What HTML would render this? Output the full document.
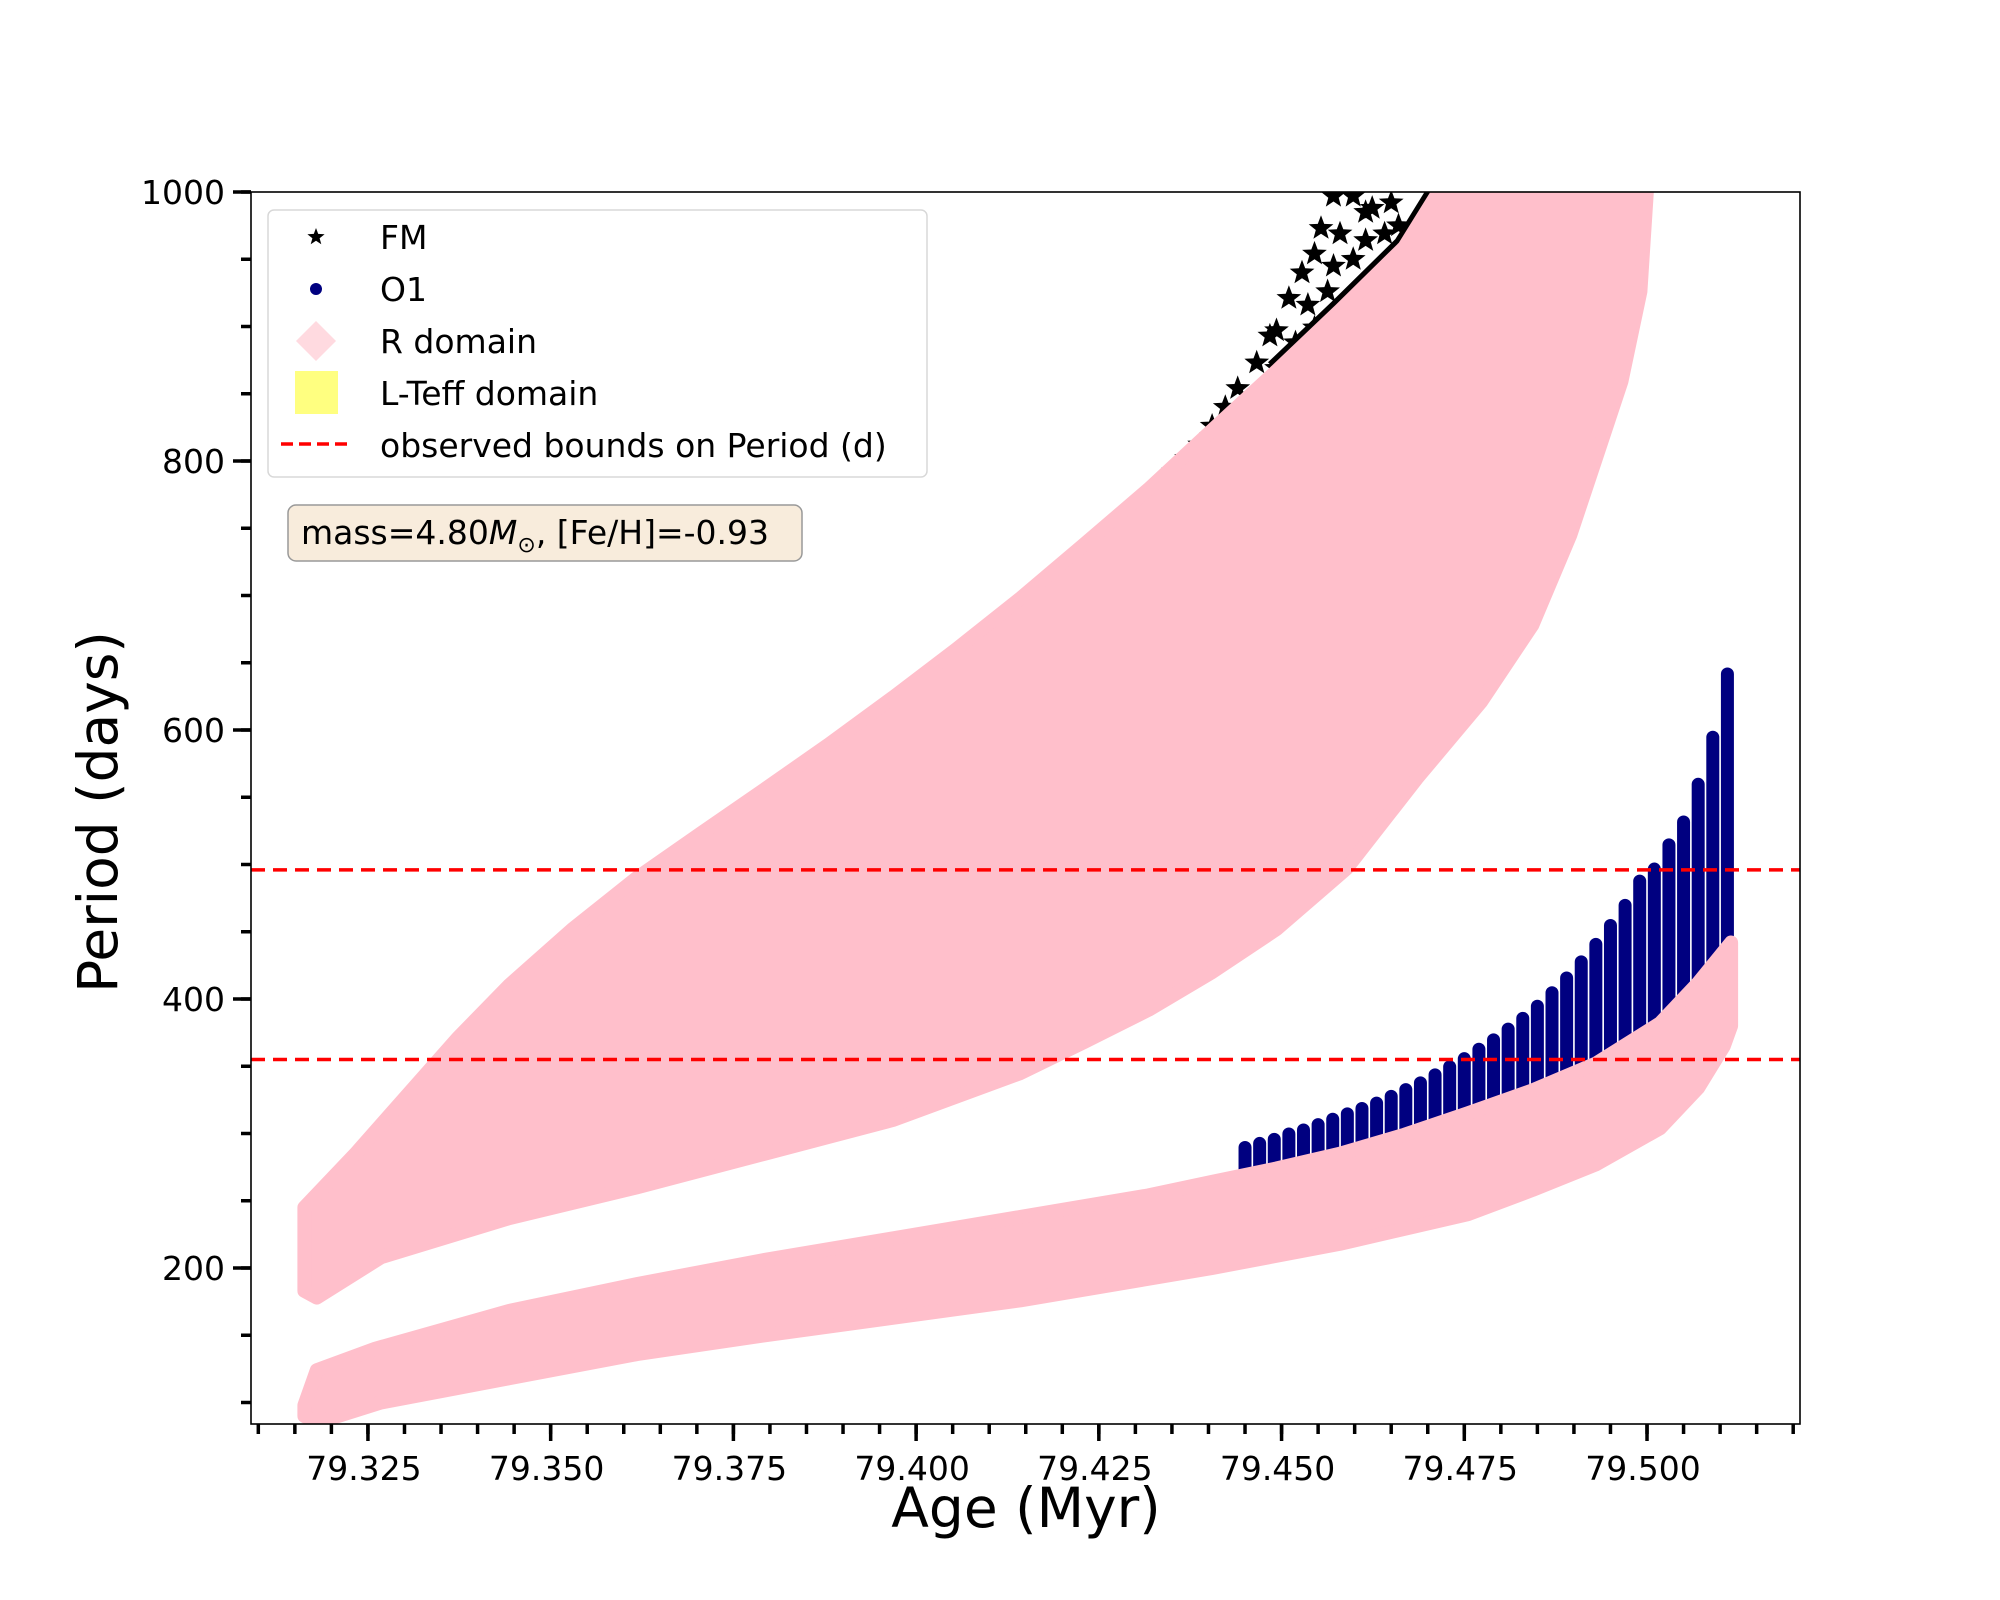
<!DOCTYPE html>
<html><head><meta charset="utf-8"><style>
html,body{margin:0;padding:0;background:#fff;}
svg{display:block;font-family:"DejaVu Sans","Liberation Sans",sans-serif;}
</style></head><body>
<svg id="chart" width="2000" height="1600" viewBox="0 0 2000 1600"></svg>
<script>
// ---- data ----
const upperBandTopAge=[79.3163,79.3233,79.3303,79.3373,79.3443,79.3530,79.3618,79.3705,79.3793,79.3880,79.3968,79.4055,79.4143,79.4230,79.4318,79.4405,79.4493,79.4580,79.4668,79.4717];
const upperBandTopP=[245,285,328,371,410,452,490,523,556,589,624,660,698,738,779,823,867,912,959,1002];
const upperBandBotAge=[79.5000,79.4991,79.4965,79.4930,79.4895,79.4843,79.4773,79.4685,79.4589,79.4493,79.4405,79.4318,79.4230,79.4143,79.3968,79.3793,79.3618,79.3443,79.3268,79.3180,79.3163];
const upperBandBotP=[1002,926,859,802,745,678,621,564,497,452,420,392,368,345,310,285,260,237,208,178,183];
const lowerBandTopAge=[79.3163,79.3180,79.3260,79.3443,79.3618,79.3793,79.3968,79.4143,79.4318,79.4405,79.4493,79.4580,79.4668,79.4755,79.4843,79.4930,79.5018,79.5070,79.5115];
const lowerBandTopP=[98,124,140,168,188,206,222,238,254,264,274,285,299,315,332,352,382,412,442];
const lowerBandBotAge=[79.5115,79.5105,79.5070,79.5018,79.4930,79.4843,79.4755,79.4580,79.4405,79.4143,79.3793,79.3618,79.3443,79.3268,79.3180,79.3163];
const lowerBandBotP=[380,365,334,304,277,258,240,218,200,176,150,136,118,100,85,90];
const o1Age=[79.445,79.447,79.449,79.451,79.453,79.455,79.457,79.459,79.461,79.463,79.465,79.467,79.469,79.471,79.473,79.475,79.477,79.479,79.481,79.483,79.485,79.487,79.489,79.491,79.493,79.495,79.497,79.499,79.501,79.503,79.505,79.507,79.509,79.511];
const o1Top=[290,293,296,300,303,307,311,315,319,323,328,333,338,344,350,356,363,370,378,386,395,405,416,428,441,455,470,488,497,515,532,560,595,642];
const fmStarAge=[79.4571,79.4598,79.4624,79.4650,79.4554,79.4580,79.4615,79.4641,79.4545,79.4571,79.4598,79.4510,79.4536,79.4563,79.4493,79.4519,79.4545,79.4466,79.4493,79.4440,79.4423,79.4405,79.4388,79.4370,79.4484,79.4528,79.4352,79.4335,79.4615,79.4660];
const fmStarP=[997,997,988,992,973,969,964,969,954,945,950,921,916,926,897,888,899,873,869,854,840,826,812,802,893,940,792,782,985,975];
const boundsP=[496,355];
const xTickVals=[79.325,79.350,79.375,79.400,79.425,79.450,79.475,79.500];
const xTickLabels=["79.325","79.350","79.375","79.400","79.425","79.450","79.475","79.500"];
const yTickVals=[200,400,600,800,1000];
const yTickLabels=["200","400","600","800","1000"];

// ---- axes ----
const L=251,R=1800,T=192,B=1424;
const xMin=79.309,xMax=79.309+(R-L)/7309;
const yMin=1000-(B-T)/1.345,yMax=1000;
const X=a=>L+(a-xMin)/(xMax-xMin)*(R-L);
const Y=p=>B-(p-yMin)/(yMax-yMin)*(B-T);
const NS="http://www.w3.org/2000/svg";
const svg=document.getElementById('chart');
function mk(tag,attrs,parent){const e=document.createElementNS(NS,tag);for(const k in attrs)e.setAttribute(k,attrs[k]);(parent||svg).appendChild(e);return e;}
function interp(ages,ps,a){for(let i=0;i<ages.length-1;i++){if(a>=ages[i]&&a<=ages[i+1]){const t=(a-ages[i])/(ages[i+1]-ages[i]);return ps[i]+t*(ps[i+1]-ps[i]);}}return a<ages[0]?ps[0]:ps[ps.length-1];}

const defs=mk('defs',{});
const cp=mk('clipPath',{id:'plotclip'},defs);
mk('rect',{x:L,y:T,width:R-L,height:B-T},cp);
const plot=mk('g',{'clip-path':'url(#plotclip)'});



// FM stars
const starG=mk('g',{},plot);


function starPath(cx,cy,r){let d='';for(let i=0;i<10;i++){const rr=i%2?r*0.42:r;const ang=-Math.PI/2+i*Math.PI/5;d+=(i?'L':'M')+(cx+rr*Math.cos(ang)).toFixed(1)+','+(cy+rr*Math.sin(ang)).toFixed(1);}return d+'Z';}
for(let i=0;i<fmStarAge.length;i++){
  const s=mk('path',{d:starPath(X(fmStarAge[i]),Y(fmStarP[i]),13),fill:'#000'},starG);
  
  
}
// black dense edge along upper band (top part only)
let edge='';
for(let i=16;i<upperBandTopAge.length;i++){edge+=(i>16?'L':'M')+(X(upperBandTopAge[i])-5)+','+(Y(upperBandTopP[i])-5);}
const edgeEl=mk('path',{d:edge,stroke:'#000','stroke-width':10,fill:'none'},starG);



// O1 columns
const o1G=mk('g',{},plot);


for(let i=0;i<o1Age.length;i++){
  const a=o1Age[i];const bot=interp(lowerBandTopAge,lowerBandTopP,a)-10;
  const yt=Y(o1Top[i]),yb=Y(Math.min(bot,o1Top[i]));
  const c=mk('rect',{x:X(a)-6.5,y:yt-6,width:13,height:Math.max(12,yb-yt+12),rx:6.5,fill:'#000080'},o1G);
  
  
}

// R domain bands
function band(topA,topP,botA,botP,name){
  let d='';
  for(let i=0;i<topA.length;i++)d+=(i?'L':'M')+X(topA[i]).toFixed(1)+','+Y(topP[i]).toFixed(1);
  for(let i=0;i<botA.length;i++)d+='L'+X(botA[i]).toFixed(1)+','+Y(botP[i]).toFixed(1);
  const p=mk('path',{d:d+'Z',fill:'#ffbfcb',stroke:'#ffbfcb','stroke-width':14,'stroke-linejoin':'round'},plot);
  
  
}
band(upperBandTopAge,upperBandTopP,upperBandBotAge,upperBandBotP,'r-domain-fm-band');
band(lowerBandTopAge,lowerBandTopP,lowerBandBotAge,lowerBandBotP,'r-domain-o1-band');

// bounds lines
for(let i=0;i<boundsP.length;i++){
  const l=mk('line',{x1:L,x2:R,y1:Y(boundsP[i]),y2:Y(boundsP[i]),stroke:'#ff0000','stroke-width':3.5,'stroke-dasharray':'14,8'},plot);
  
  
}

// frame
const frame=mk('rect',{x:L,y:T,width:R-L,height:B-T,fill:'none',stroke:'#000','stroke-width':1.6});



// x ticks
const xAx=mk('g',{});


for(let k=0;;k++){const a=79.310+k*0.005;if(a>xMax)break;const x=X(a);
  const t=mk('line',{x1:x,x2:x,y1:B,y2:B+10,stroke:'#000','stroke-width':3.5},xAx);
  
  }
for(let i=0;i<xTickVals.length;i++){const x=X(xTickVals[i]);
  const t=mk('line',{x1:x,x2:x,y1:B,y2:B+17,stroke:'#000','stroke-width':3.5},xAx);
  
  
  const tx=mk('text',{x:x-4,y:B+56,'font-size':33,'text-anchor':'middle'},xAx);tx.textContent=xTickLabels[i];
  
  }
// y ticks
const yAx=mk('g',{});


for(let v=100;v<=1000;v+=50){const y=Y(v);
  const t=mk('line',{x1:L-10,x2:L,y1:y,y2:y,stroke:'#000','stroke-width':3.5},yAx);
  
  }
for(let i=0;i<yTickVals.length;i++){const y=Y(yTickVals[i]);
  const t=mk('line',{x1:L-18,x2:L,y1:y,y2:y,stroke:'#000','stroke-width':3.5},yAx);
  
  
  const tx=mk('text',{x:L-26,y:y+12,'font-size':33,'text-anchor':'end'},yAx);tx.textContent=yTickLabels[i];
  
  }
const xt=mk('text',{x:1026,y:1527,'font-size':55,'text-anchor':'middle'});xt.textContent='Age (Myr)';


const yt=mk('text',{x:0,y:0,'font-size':55,'text-anchor':'middle',transform:'translate(117,812) rotate(-90)'});yt.textContent='Period (days)';



// legend
const lg=mk('g',{});


mk('rect',{x:268,y:210,width:659,height:267,rx:6,fill:'#fff','fill-opacity':0.85,stroke:'#d8d8d8','stroke-width':1.5},lg);
const rows=[['FM',237],['O1',289],['R domain',341],['L-Teff domain',393],['observed bounds on Period (d)',445]];
mk('path',{d:starPath(316,237,9),fill:'#000'},lg);
mk('circle',{cx:316,cy:289,r:6,fill:'#000080'},lg);
mk('path',{d:'M316,321L336,341L316,361L296,341Z',fill:'#ffdae0'},lg);
mk('rect',{x:295,y:371,width:43,height:43,fill:'#ffff80'},lg);
mk('line',{x1:281,x2:351,y1:444,y2:444,stroke:'#ff0000','stroke-width':3.5,'stroke-dasharray':'12,6'},lg);
for(const [t,y] of rows){const e=mk('text',{x:380,y:y+12,'font-size':33},lg);e.textContent=t;
  
  }

// annotation box
const ann=mk('g',{});


mk('rect',{x:288,y:505,width:514,height:56,rx:8,fill:'#f8ecdc',stroke:'#999','stroke-width':1.5},ann);
const at=mk('text',{x:301,y:544,'font-size':33},ann);
at.innerHTML='mass=4.80<tspan font-style="italic">M</tspan><tspan font-size="22" dy="8">⊙</tspan><tspan dy="-8">, [Fe/H]=-0.93</tspan>';
</script>
</body></html>
